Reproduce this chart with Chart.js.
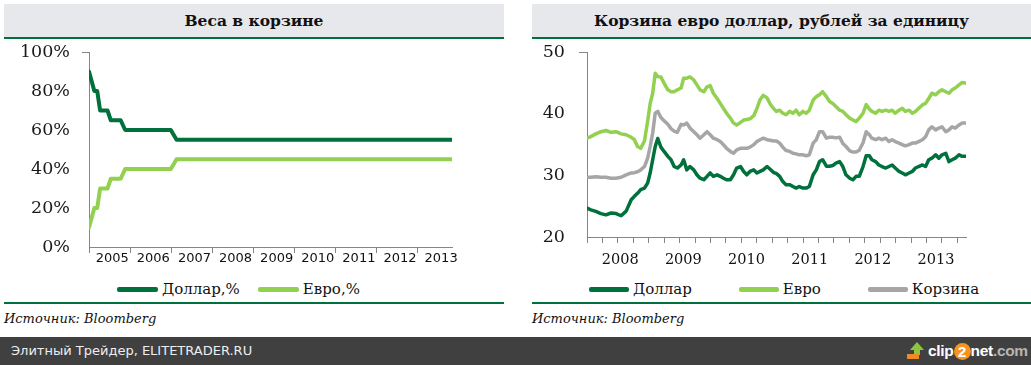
<!DOCTYPE html>
<html><head><meta charset="utf-8">
<script src="https://cdn.jsdelivr.net/npm/chart.js@4/dist/chart.umd.min.js"></script>
<style>
html,body{margin:0;padding:0;background:#fff;width:1031px;height:365px;overflow:hidden;position:relative;}
.band{position:absolute;top:4px;height:33px;background:#e6e8ec;border-bottom:2px solid #00703c;font:bold 15.5px "DejaVu Serif";color:#111;display:flex;align-items:center;justify-content:center;white-space:nowrap;}
.sep{position:absolute;top:302px;height:2px;background:#00703c;}
.src{position:absolute;top:310px;font:italic 13px "DejaVu Serif";color:#111;line-height:18px;white-space:nowrap;}
canvas{position:absolute;top:39px;}
.legend{position:absolute;top:279px;height:20px;display:flex;align-items:center;font:15px "DejaVu Serif";color:#111;white-space:nowrap;}
.legend .item{display:flex;align-items:center;}
.legend .line{display:inline-block;height:5px;border-radius:2px;margin-right:4px;}
#footer{position:absolute;left:0;top:337px;width:1031px;height:28px;background:#404040;}
#footer .txt{position:absolute;left:11px;top:5px;font:13px "DejaVu Sans";color:#eeeeee;line-height:18px;white-space:nowrap;}
#logo{position:absolute;left:907px;top:4px;height:20px;display:flex;align-items:center;font:bold 15.5px "Liberation Sans";letter-spacing:-0.3px;}
#logo .icon{position:relative;width:19px;height:18px;margin-right:2px;}
#logo .icon .tri{position:absolute;left:3px;top:0;width:0;height:0;border-left:7px solid transparent;border-right:7px solid transparent;border-bottom:8px solid #8cc63f;}
#logo .icon .stem{position:absolute;left:7px;top:7px;width:6px;height:6px;background:#8cc63f;}
#logo .icon .base{position:absolute;left:0;top:12px;width:12px;height:5px;background:#f08a24;}
#logo .w{color:#ffffff;}
#logo .two{display:inline-block;width:17px;height:17px;border-radius:50%;background:#f7941d;color:#fff;text-align:center;line-height:17px;}
#logo .g{color:#b5b5b5;}
</style>
</head><body>
<div class="band" style="left:4px;width:500px;">Веса в корзине</div>
<div class="band" style="left:532px;width:499px;">Корзина евро доллар, рублей за единицу</div>
<canvas id="c1" width="500" height="231" style="left:4px;"></canvas>
<canvas id="c2" width="499" height="231" style="left:532px;"></canvas>
<div class="legend" id="legend1" style="left:117px;gap:18px;"></div>
<div class="legend" id="legend2" style="left:589px;gap:47px;"></div>
<div class="sep" style="left:4px;width:500px;"></div>
<div class="sep" style="left:532px;width:499px;"></div>
<div class="src" style="left:4px;">Источник: Bloomberg</div>
<div class="src" style="left:532px;">Источник: Bloomberg</div>
<div id="footer"><div class="txt">Элитный Трейдер, ELITETRADER.RU</div>
<div id="logo"><span class="icon"><span class="tri"></span><span class="stem"></span><span class="base"></span></span><span class="w">clip</span><span class="two">2</span><span class="w">net</span><span class="g">.com</span></div></div>
<script>
// ---------- Left chart: basket weights ----------
const weightDates = [2005.0, 2005.13, 2005.2, 2005.27, 2005.45, 2005.53, 2005.77, 2005.88, 2006.99, 2007.13, 2013.83];
const usdWeight   = [90, 80, 80, 70, 70, 65, 65, 60, 60, 55, 55];
const eurWeight   = [10, 20, 20, 30, 30, 35, 35, 40, 40, 45, 45];
const weightYears = ['2005','2006','2007','2008','2009','2010','2011','2012','2013'];
const weightTicks = [0, 20, 40, 60, 80, 100];

// ---------- Right chart: rubles per unit ----------
const basketDates = [
 2008.00,2008.06,2008.14,2008.22,2008.30,2008.38,2008.46,2008.54,2008.62,2008.70,2008.75,2008.80,2008.85,2008.91,2008.96,2009.00,2009.04,2009.08,2009.12,2009.17,2009.22,2009.28,2009.33,2009.38,2009.43,2009.49,2009.53,
 2009.58,2009.63,2009.69,2009.74,2009.79,2009.85,2009.90,2009.95,2010.00,2010.06,2010.11,2010.16,2010.21,2010.27,2010.32,2010.37,2010.43,2010.48,2010.53,2010.58,2010.64,2010.69,2010.74,2010.79,2010.85,2010.90,2010.95,
 2011.00,2011.05,2011.10,2011.15,2011.21,2011.26,2011.31,2011.36,2011.42,2011.47,2011.52,2011.58,2011.63,2011.68,2011.73,2011.79,2011.84,2011.89,2011.94,2012.00,2012.05,2012.10,2012.16,2012.21,2012.26,2012.31,2012.37,2012.42,2012.47,
 2012.51,2012.57,2012.62,2012.67,2012.73,2012.78,2012.83,2012.88,2012.94,2012.99,2013.04,2013.10,2013.15,2013.20,2013.25,2013.31,2013.36,2013.41,2013.46,2013.52,2013.57,2013.62,2013.68,2013.73,2013.78,2013.83,2013.89,2013.94,2013.99];
const usdRub = [
 24.7,24.4,24.15,23.8,23.6,23.9,23.8,23.45,24.2,26.05,26.6,27.1,27.7,27.95,28.75,30.4,32.55,34.7,36.0,34.6,33.9,33.1,32.55,31.45,31.2,31.7,32.55,
 30.9,31.45,30.9,30.1,29.55,29.3,29.85,30.4,29.85,30.1,29.85,29.55,29.3,29.3,30.1,31.2,31.45,30.65,30.1,30.65,30.9,30.4,30.65,30.9,31.45,31.0,30.5,
 30.3,29.85,29.0,28.5,28.5,28.2,27.95,28.2,27.95,27.95,28.2,30.1,30.9,32.25,32.55,31.5,31.5,31.6,32.0,32.25,31.45,30.1,29.55,29.3,29.85,29.85,31.45,33.2,33.2,
 32.55,32.25,31.7,31.45,31.2,31.45,31.7,31.2,30.65,30.4,30.1,30.4,30.65,31.2,31.45,31.7,31.45,32.55,32.8,33.35,32.8,33.35,33.6,32.25,32.55,32.8,33.35,33.1,33.1];
const eurRub = [
 36.05,36.3,36.75,37.1,37.3,37.0,37.1,36.75,36.6,36.2,35.8,34.7,34.4,35.6,38.8,41.7,43.35,46.6,46.05,46.0,45.0,43.9,43.6,43.6,43.9,44.2,45.8,
 45.8,46.0,45.5,44.7,43.9,43.6,44.4,44.6,43.35,42.5,41.7,40.9,40.1,39.3,38.5,38.2,38.6,39.0,39.1,39.2,39.7,40.9,42.3,43.0,42.6,41.6,40.9,
 40.4,40.6,40.1,39.85,40.4,40.1,40.6,39.85,40.4,40.1,40.6,42.25,42.8,43.1,43.6,42.8,42.0,41.7,41.2,40.6,40.4,39.85,39.3,39.0,38.75,39.3,40.1,41.5,40.8,
 40.4,40.1,40.6,40.4,40.6,40.4,40.6,40.1,40.6,40.9,40.4,40.6,40.1,40.4,40.9,41.45,41.7,42.5,43.35,43.1,43.6,43.9,43.6,43.35,43.9,44.2,44.7,45.1,45.0];
const basketRub = [
 29.7,29.7,29.8,29.7,29.7,29.55,29.55,29.7,30.1,30.4,30.45,30.6,30.9,31.45,32.8,34.7,36.9,40.1,40.4,39.4,38.9,38.3,37.6,37.2,37.0,38.3,38.2,
 38.5,37.7,37.1,36.6,36.05,36.6,37.1,36.6,36.05,35.8,35.5,35.0,34.4,33.9,33.6,34.15,34.4,34.4,34.4,34.6,35.0,35.5,35.8,36.05,35.8,35.7,35.6,
 35.6,35.25,34.6,34.05,33.9,33.6,33.5,33.35,33.35,33.2,33.35,35.25,35.8,37.1,37.1,36.05,36.2,36.2,36.1,36.2,35.2,34.7,34.0,33.8,33.8,34.1,35.3,37.1,36.6,
 36.05,35.8,36.05,35.8,36.05,35.5,35.8,35.5,35.25,35.0,34.8,35.0,35.25,35.25,35.5,35.8,36.3,37.4,37.9,37.4,37.7,37.9,37.1,37.4,37.9,37.7,38.2,38.5,38.5];
const basketYears = ['2008','2009','2010','2011','2012','2013'];
const basketTicks = [20, 30, 40, 50];

const DARK = '#00703c', LIGHT = '#92d050', GRAY = '#a6a6a6', AXIS = '#868686', NONE = 'rgba(0,0,0,0)';

function pts(xs, ys){ return xs.map((x,i)=>({x:x, y:ys[i]})); }

function htmlLegend(id, lineW){
  return { id:'htmlLegend_'+id, afterUpdate(chart){
    const box = document.getElementById(id); box.innerHTML = '';
    chart.data.datasets.forEach(ds=>{
      const it = document.createElement('div'); it.className='item';
      const ln = document.createElement('span'); ln.className='line';
      ln.style.width = lineW+'px'; ln.style.background = ds.borderColor;
      const tx = document.createElement('span'); tx.textContent = ds.label;
      it.appendChild(ln); it.appendChild(tx); box.appendChild(it);
    });
  }};
}

function lineDs(label, data, color, w){
  return {label, data, borderColor:color, backgroundColor:color, borderWidth:w, pointRadius:0,
          tension:0, borderCapStyle:'round', borderJoinStyle:'round', fill:false};
}

// year-boundary tick marks + centred year labels
function yearTicks(firstYear, years, markStep, markCount, labelOffset){
  const t = [];
  for (let k=0;k<markCount;k++) t.push({value:firstYear + k*markStep, mark:true, lbl:''});
  years.forEach((y,i)=> t.push({value:firstYear + i + labelOffset, mark:false, lbl:y}));
  t.sort((a,b)=>a.value-b.value);
  return t;
}

new Chart(document.getElementById('c1'), {
  type:'line',
  data:{datasets:[
    lineDs('Доллар,%', pts(weightDates, usdWeight), DARK, 4),
    lineDs('Евро,%', pts(weightDates, eurWeight), LIGHT, 4)
  ]},
  options:{
    responsive:false, animation:false, devicePixelRatio:1,
    layout:{padding:{top:13,right:52,left:0,bottom:0}},
    plugins:{legend:{display:false}, tooltip:{enabled:false}},
    scales:{
      x:{type:'linear', bounds:'data', min:2005, max:2013.83,
         afterBuildTicks:s=>{ s.ticks = yearTicks(2005, weightYears, 1, 9, 0.565); },
         afterFit:s=>{ s.height = 23; s.paddingLeft = 0; s.paddingRight = 0; },
         grid:{drawOnChartArea:false, tickLength:6, tickWidth:1,
               tickColor:c=> (c.tick && c.tick.mark) ? AXIS : NONE},
         border:{color:AXIS, width:1},
         ticks:{autoSkip:false, maxRotation:0, minRotation:0, padding:-2, color:'#111',
                font:{family:'DejaVu Sans', size:13}, callback:(v,i,t)=> t[i].lbl}},
      y:{min:0, max:100, bounds:'data',
         afterBuildTicks:s=>{ s.ticks = weightTicks.map(v=>({value:v})); },
         afterFit:s=>{ s.width = 85; s.paddingTop = 0; s.paddingBottom = 0; },
         grid:{drawOnChartArea:false, tickLength:7, tickColor:c=> (c.tick && c.tick.value===100) ? AXIS : NONE},
         border:{color:AXIS, width:1},
         ticks:{padding:12, color:'#1a1a1a', font:{family:'DejaVu Serif', size:17.5}, callback:v=> v+'%'}}
    }
  },
  plugins:[htmlLegend('legend1', 41)]
});

new Chart(document.getElementById('c2'), {
  type:'line',
  data:{datasets:[
    lineDs('Доллар', pts(basketDates, usdRub), DARK, 3.5),
    lineDs('Евро', pts(basketDates, eurRub), LIGHT, 3.5),
    lineDs('Корзина', pts(basketDates, basketRub), GRAY, 3.5)
  ]},
  options:{
    responsive:false, animation:false, devicePixelRatio:1,
    layout:{padding:{top:13.3,right:65,left:0,bottom:0}},
    plugins:{legend:{display:false}, tooltip:{enabled:false}},
    scales:{
      x:{type:'linear', bounds:'data', min:2008, max:2014,
         afterBuildTicks:s=>{ s.ticks = yearTicks(2008, basketYears, 0.2443, 25, 0.525); },
         afterFit:s=>{ s.height = 33; s.paddingLeft = 0; s.paddingRight = 0; },
         grid:{drawOnChartArea:false, tickLength:6, tickWidth:1,
               tickColor:c=> (c.tick && c.tick.mark) ? AXIS : NONE},
         border:{color:AXIS, width:1},
         ticks:{autoSkip:false, maxRotation:0, minRotation:0, padding:9, color:'#111',
                font:{family:'DejaVu Serif', size:14.5}, callback:(v,i,t)=> t[i].lbl}},
      y:{min:20, max:50, bounds:'data',
         afterBuildTicks:s=>{ s.ticks = basketTicks.map(v=>({value:v})); },
         afterFit:s=>{ s.width = 55; s.paddingTop = 0; s.paddingBottom = 0; },
         grid:{drawOnChartArea:false, tickLength:8, tickColor:c=> (c.tick && c.tick.value===50) ? AXIS : NONE},
         border:{color:AXIS, width:1},
         ticks:{padding:14, color:'#1a1a1a', font:{family:'DejaVu Serif', size:17.5}}}
    }
  },
  plugins:[htmlLegend('legend2', 40)]
});
</script>
</body></html>
